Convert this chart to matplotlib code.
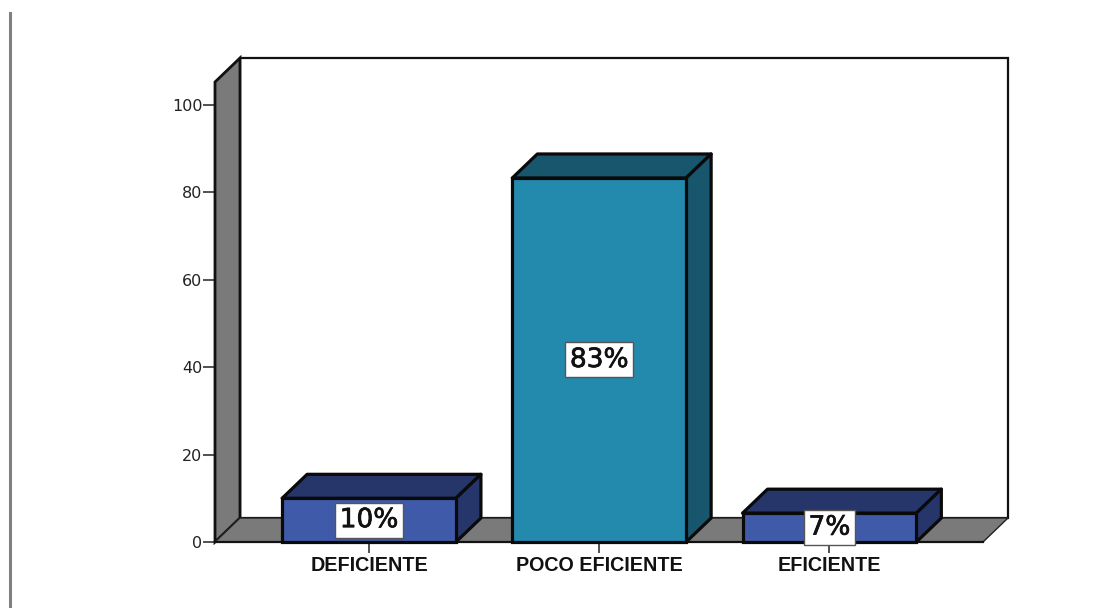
import matplotlib
matplotlib.use('Agg')
import matplotlib.pyplot as plt
import matplotlib.patheffects as pe
from matplotlib.lines import Line2D
from matplotlib.patches import Polygon

categories = ['DEFICIENTE', 'POCO EFICIENTE', 'EFICIENTE']
values = [10, 83.3, 6.6]
labels = ['10%', '83%', '7%']
yticks = [0, 20, 40, 60, 80, 100]

front_colors = ['#3f5aa9', '#2389ad', '#3f5aa9']
dark_colors = ['#26366b', '#17566c', '#26366b']
grey = '#7a7a7a'

plt.rcParams['font.family'] = ['Liberation Sans', 'DejaVu Sans']

fig = plt.figure(figsize=(11.16, 6.12), dpi=100)
W, H = 1116, 612
ax = fig.add_axes([215 / W, 1 - 542 / H, (983 - 215) / W, (542 - 82) / H])
x0, x1 = -0.669, 2.667
ymax = 105.26
ax.set_xlim(x0, x1)
ax.set_ylim(0, ymax)

# depth of the fake 3d box, in data units
dx = 25 / 230.25
dy = 5.49
width = 0.755

# back wall, left wall and floor
ax.add_patch(Polygon([(x0 + dx, dy), (x1 + dx, dy), (x1 + dx, ymax + dy), (x0 + dx, ymax + dy)],
                     fc='white', ec='#111111', lw=1.6, clip_on=False, zorder=1))
ax.add_patch(Polygon([(x0, 0), (x0 + dx, dy), (x0 + dx, ymax + dy), (x0, ymax)],
                     fc=grey, ec='#111111', lw=2, clip_on=False, zorder=2))
ax.add_patch(Polygon([(x0, 0), (x1, 0), (x1 + dx, dy), (x0 + dx, dy)],
                     fc=grey, ec='#222222', lw=1, clip_on=False, zorder=2))

xs = range(len(categories))
ax.bar(xs, values, width=width, color=front_colors, edgecolor='#0a0a0a', linewidth=2.3, zorder=4, clip_on=False)

for i, v in zip(xs, values):
    l, r = i - width / 2, i + width / 2
    ax.add_patch(Polygon([(l, v), (r, v), (r + dx, v + dy), (l + dx, v + dy)],
                         fc=dark_colors[i], ec='#0a0a0a', lw=2.3, joinstyle='round', clip_on=False, zorder=3))
    ax.add_patch(Polygon([(r, 0), (r + dx, dy), (r + dx, v + dy), (r, v)],
                         fc=dark_colors[i], ec='#0a0a0a', lw=2.3, joinstyle='round', clip_on=False, zorder=3))
    ax.text(i, v / 2, labels[i], ha='center', va='center', fontsize=19, family='DejaVu Sans', color='#111111', zorder=6,
            path_effects=[pe.withStroke(linewidth=0.5, foreground='#111111')],
            bbox=dict(boxstyle='square,pad=0.17', fc='white', ec='#555555', lw=1))

for s in ax.spines.values():
    s.set_visible(False)
ax.plot([x0, x1], [0, 0], color='#111111', lw=1.6, zorder=3, clip_on=False)

ax.set_xticks(list(xs))
ax.set_xticklabels(categories, fontsize=14.2, fontweight='bold', color='#111111')
ax.set_yticks(yticks)
ax.set_yticklabels([str(t) for t in yticks], fontsize=11.5, family='DejaVu Sans', color='#222222')
ax.tick_params(axis='y', length=8.5, width=1.1, pad=0.5, color='#222222')
ax.tick_params(axis='x', length=8, width=1.1, pad=2, color='#222222')

# grey rule down the left of the page
fig.add_artist(Line2D([10 / W, 10 / W], [1 - 13 / H, 1 - 606 / H], color='#808080', lw=2.2))

fig.savefig('out.png', dpi=100)
